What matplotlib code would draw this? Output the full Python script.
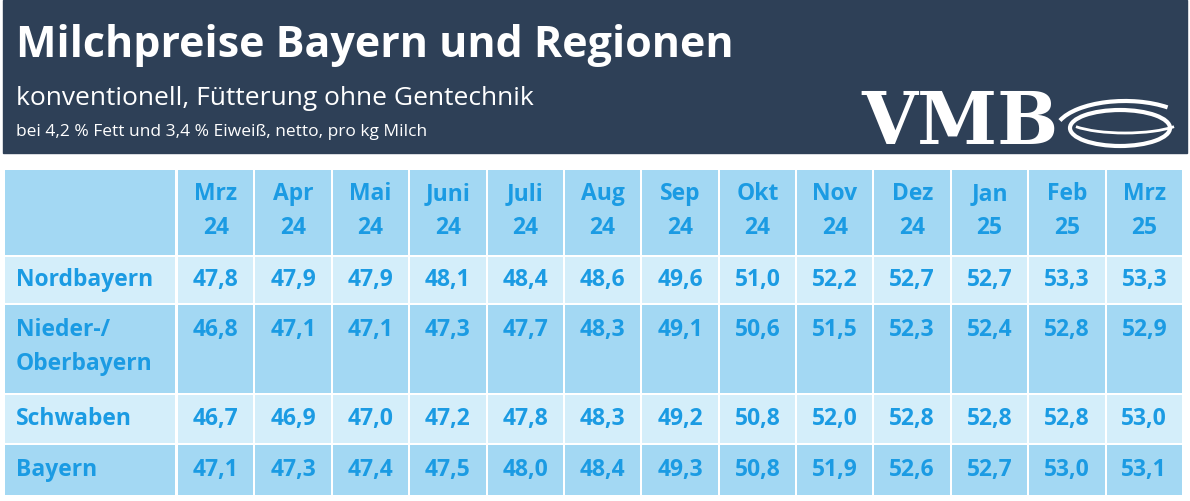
import matplotlib
matplotlib.use("Agg")
import matplotlib.pyplot as plt
from matplotlib.patches import Rectangle, Ellipse, Arc

months = ["Mrz\n24","Apr\n24","Mai\n24","Juni\n24","Juli\n24","Aug\n24","Sep\n24","Okt\n24","Nov\n24","Dez\n24","Jan\n25","Feb\n25","Mrz\n25"]
regions = ["Nordbayern","Nieder-/\nOberbayern","Schwaben","Bayern"]
nordbayern = [47.8,47.9,47.9,48.1,48.4,48.6,49.6,51.0,52.2,52.7,52.7,53.3,53.3]
nieder_ober = [46.8,47.1,47.1,47.3,47.7,48.3,49.1,50.6,51.5,52.3,52.4,52.8,52.9]
schwaben = [46.7,46.9,47.0,47.2,47.8,48.3,49.2,50.8,52.0,52.8,52.8,52.8,53.0]
bayern = [47.1,47.3,47.4,47.5,48.0,48.4,49.3,50.8,51.9,52.6,52.7,53.0,53.1]
values = [nordbayern, nieder_ober, schwaben, bayern]

W, H = 1190, 501
fig = plt.figure(figsize=(W/100, H/100), dpi=100)
ax = fig.add_axes([0, 0, 1, 1])
ax.set_xlim(0, W); ax.set_ylim(H, 0); ax.axis("off")
font = "Open Sans"
navy = "#2E4057"
blue = "#1B9BE3"
hdr = "#A3D8F3"
light = "#D4EEFA"
mid = "#A3D8F3"
fs = 16.5

ax.add_patch(Rectangle((3, 0), 1184, 153, color=navy))
ax.text(16, 45, "Milchpreise Bayern und Regionen", color="white", fontsize=31, fontweight="bold", family=font, va="center")
ax.text(16, 98, "konventionell, Fütterung ohne Gentechnik", color="white", fontsize=19, family=font, va="center")
ax.text(16, 132, "bei 4,2 % Fett und 3,4 % Eiweiß, netto, pro kg Milch", color="white", fontsize=12.5, family=font, va="center")
ax.text(960, 123, "VMB", color="white", fontsize=52, fontweight="bold", family="DejaVu Serif", va="center", ha="center")
ax.add_patch(Ellipse((1120, 128), 100, 36, fill=False, ec="white", lw=3))
ax.add_patch(Arc((1125, 132), 140, 62, theta1=190, theta2=330, ec="white", lw=3))
ax.add_patch(Arc((1125, 118), 120, 30, theta1=10, theta2=170, ec="white", lw=2))

x0, c0w = 5, 172
cw = (1183 - 177) / 13
rows_y = [(170, 255), (257, 303), (305, 393), (395, 443), (445, 495)]
gap = 2
y1, y2 = rows_y[0]
for j in range(14):
    xl = x0 if j == 0 else 177 + (j - 1) * cw
    w = c0w if j == 0 else cw
    ax.add_patch(Rectangle((xl + (0 if j == 0 else gap/2), y1), w - gap, y2 - y1, color=hdr, lw=0))
    if j > 0:
        ax.text(xl + w/2, 211, months[j-1], color=blue, fontsize=fs, fontweight="bold",
                family=font, ha="center", va="center", linespacing=1.5)
for i, reg in enumerate(regions):
    y1, y2 = rows_y[i+1]
    col = light if i % 2 == 0 else mid
    for j in range(14):
        xl = x0 if j == 0 else 177 + (j - 1) * cw
        w = c0w if j == 0 else cw
        ax.add_patch(Rectangle((xl + (0 if j == 0 else gap/2), y1), w - gap, y2 - y1, color=col, lw=0))
    if i == 1:
        ax.text(16, 347, reg, color=blue, fontsize=fs, fontweight="bold", family=font,
                ha="left", va="center", linespacing=1.5)
        yc = 330
    else:
        ax.text(16, (y1+y2)/2, reg, color=blue, fontsize=fs, fontweight="bold", family=font,
                ha="left", va="center")
        yc = (y1+y2)/2
    for j, v in enumerate(values[i]):
        xl = 177 + j * cw
        ax.text(xl + cw/2, yc, f"{v:.1f}".replace(".", ","), color=blue, fontsize=fs,
                fontweight="bold", family=font, ha="center", va="center")

fig.savefig("out.png", dpi=100)
